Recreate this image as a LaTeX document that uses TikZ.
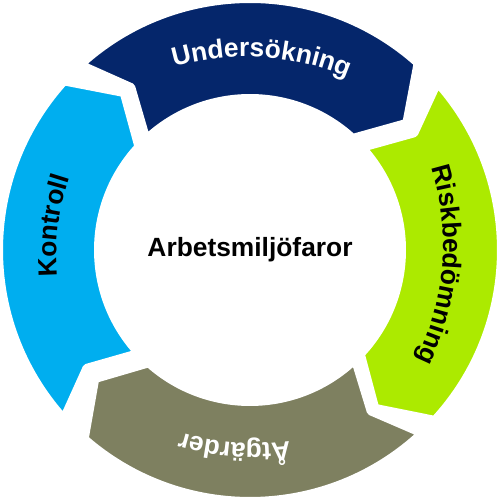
\documentclass[tikz,border=0pt]{standalone}
\usepackage{fontspec}
\setmainfont{Liberation Sans}
\usetikzlibrary{decorations.text}
\definecolor{ringnavy}{RGB}{5,38,107}
\definecolor{ringgreen}{RGB}{172,234,0}
\definecolor{ringolive}{RGB}{126,128,96}
\definecolor{ringcyan}{RGB}{0,174,239}
\newcommand{\ringfont}{\bfseries\fontsize{15pt}{18pt}\selectfont}
\tikzset{
  ringseg/.style={draw=white, line width=0.16cm, line join=round},
  arclabel/.style={decorate, decoration={text along path, text align=center, #1}},
}

\begin{document}
\begin{tikzpicture}
    \fill[white] (-5,-5) rectangle (5,5);
    \useasboundingbox (-5,-5) rectangle (5,5);
    % four arrow-shaped ring segments, running clockwise
    \foreach \a/\col in {131.5/ringnavy, 40.8/ringgreen, -47.8/ringolive, -138.8/ringcyan}
      \filldraw[ringseg, fill=\col] (\a+0.9:5.02) arc[start angle=\a+0.9, end angle=\a-83.4, radius=5.02]
        -- (\a-92.4:4.03) -- (\a-84:3.04) arc[start angle=\a-84, end angle=\a+1.5, radius=3.04]
        -- (\a-5.4:4.03) -- cycle;
    % labels on the segments
    \path[arclabel={text color=white, text={|\ringfont|Undersökning}}]
      ([shift={(86.5:-1.34)}]126.5:5.2) arc[start angle=126.5, end angle=46.5, radius=5.2];
    \path[arclabel={text color=black, text={|\ringfont|Riskbedömning}}]
      ([shift={(-4.5:-1.34)}]35.5:5.2) arc[start angle=35.5, end angle=-44.5, radius=5.2];
    \path[arclabel={text color=white, text={|\ringfont|Åtgärder}}]
      ([shift={(-94.5:-1.34)}]-54.5:5.2) arc[start angle=-54.5, end angle=-134.5, radius=5.2];
    \path[arclabel={text color=black, text={|\ringfont|Kontroll}}]
      ([shift={(173:-1.34)}]213:5.2) arc[start angle=213, end angle=133, radius=5.2];
    \node[font=\ringfont, anchor=base] (core) at (0,-0.14) {Arbetsmiljöfaror};
\end{tikzpicture}
\end{document}
